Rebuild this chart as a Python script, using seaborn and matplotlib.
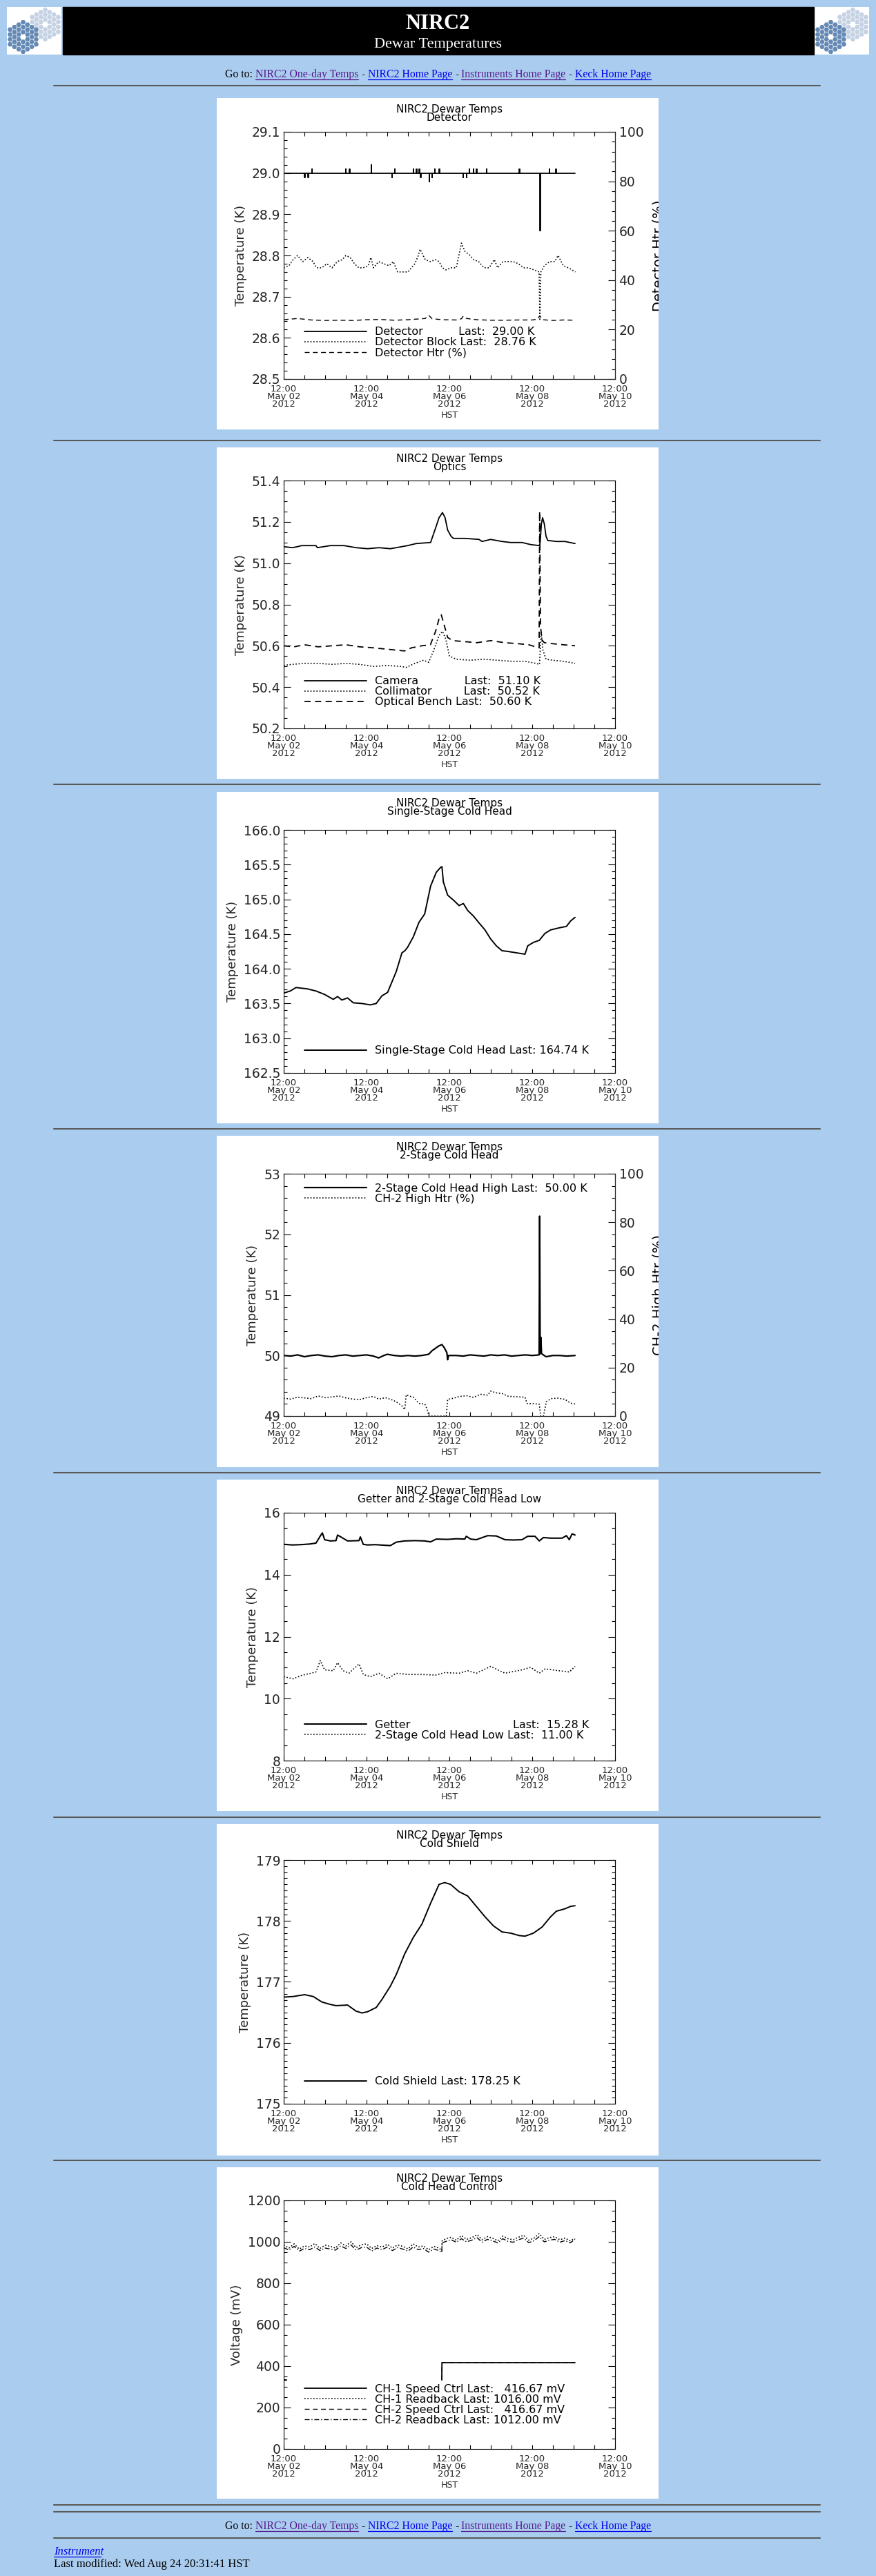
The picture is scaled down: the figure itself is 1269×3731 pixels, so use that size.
"""
NIRC2 dewar temperatures page: seven IDL-style strip charts stacked on one tall page.
"""

import numpy as np
import pandas as pd
import matplotlib
matplotlib.use("Agg")
import matplotlib.pyplot as plt
import matplotlib.dates as mdates
from matplotlib.lines import Line2D
from matplotlib.patches import Rectangle, RegularPolygon
from matplotlib.ticker import AutoMinorLocator, FormatStrFormatter, MultipleLocator
import seaborn as sns

# ---------------------------------------------------------------- data
# all times are hours after 2012-05-02 12:00 HST
START = pd.Timestamp("2012-05-02 12:00")
tick_times = ["2012-05-02 12:00", "2012-05-04 12:00", "2012-05-06 12:00",
              "2012-05-08 12:00", "2012-05-10 12:00"]
tick_labels = ["12:00\nMay 02\n2012", "12:00\nMay 04\n2012", "12:00\nMay 06\n2012",
               "12:00\nMay 08\n2012", "12:00\nMay 10\n2012"]

# Detector panel
det_hours = [0, 12.1, 12.3, 14.1, 14.3, 16.2, 16.4, 35.8, 36.0, 38.1, 38.3, 50.6, 50.8,
             62.7, 62.9, 64.3, 64.5, 75.1, 75.3, 76.8, 77.0, 78.4, 78.6, 79.3, 79.5,
             84.2, 84.4, 85.9, 86.1, 87.5, 87.7, 90.0, 90.2, 103.8, 104.0, 105.8, 106.0,
             107.4, 107.6, 109.9, 110.1, 111.6, 111.8, 117.4, 117.6, 136.5, 136.7,
             148.4, 148.6, 153.9, 154.1, 157.7, 157.9, 168.8]
det_temp = [29.00, 28.99, 29.00, 28.99, 29.00, 29.01, 29.00, 29.01, 29.00, 29.01, 29.00,
            29.02, 29.00, 28.99, 29.00, 29.01, 29.00, 29.01, 29.00, 29.01, 29.00, 29.01,
            29.00, 28.99, 29.00, 28.98, 29.00, 28.99, 29.00, 29.01, 29.00, 29.01, 29.00,
            28.99, 29.00, 28.99, 29.00, 29.01, 29.00, 29.01, 29.00, 29.01, 29.00, 29.01,
            29.00, 29.01, 29.00, 28.86, 29.00, 29.01, 29.00, 29.01, 29.00, 29.00]
blk_hours = [0, 3, 5.5, 8, 11, 14, 17, 19, 22, 25,
             28, 31, 34, 36, 38.5, 41, 43.5, 46, 49, 50.5,
             52, 55, 58, 61, 63.5, 66, 69, 72, 74, 76,
             78, 79, 82, 85, 88, 90, 92, 94, 97, 100,
             103, 105, 108, 110, 113, 116, 119, 122, 124, 127,
             130, 133, 136, 139, 142, 145, 148, 148.4, 149, 151,
             154, 157, 159, 162, 165, 169]
blk_temp = [28.770, 28.775, 28.790, 28.800, 28.785, 28.795, 28.785, 28.770, 28.770, 28.780,
            28.770, 28.785, 28.790, 28.800, 28.795, 28.780, 28.770, 28.770, 28.775, 28.795,
            28.770, 28.785, 28.780, 28.775, 28.785, 28.760, 28.760, 28.760, 28.770, 28.780,
            28.800, 28.815, 28.790, 28.785, 28.790, 28.785, 28.770, 28.765, 28.770, 28.770,
            28.830, 28.810, 28.800, 28.790, 28.785, 28.770, 28.770, 28.790, 28.770, 28.785,
            28.785, 28.785, 28.780, 28.770, 28.770, 28.765, 28.760, 28.645, 28.760, 28.775,
            28.785, 28.785, 28.800, 28.775, 28.770, 28.760]
htr_hours = [0, 8, 16, 24, 32, 40, 48, 56, 64, 72,
             78, 82, 84, 86, 92, 100, 103, 104, 106, 112,
             120, 128, 136, 144, 147, 148.4, 150, 156, 162, 169]
htr_pct = [24.0, 24.5, 23.9, 23.7, 23.8, 23.7, 24.0, 24.1, 23.8, 24.0,
           24.3, 24.5, 25.8, 24.4, 24.0, 23.9, 24.4, 25.5, 24.5, 24.0,
           23.8, 23.8, 23.9, 23.9, 24.2, 25.6, 24.0, 23.7, 23.9, 23.8]

# Optics panel
cam_hours = [0, 5, 8, 10.4, 18.7, 19.5, 27, 35, 41.9, 48.6,
             55.2, 61.8, 71.8, 76.8, 85.1, 88, 90, 92, 93.5, 95,
             97, 98.3, 105, 113.2, 114.9, 119.9, 126.5, 131.5, 138.1, 143.1,
             148.1, 148.6, 149.3, 150.0, 151.0, 152.0, 153.0, 158, 163.0, 168.8]
cam_temp = [51.080, 51.075, 51.080, 51.085, 51.085, 51.075, 51.085, 51.085, 51.075, 51.070,
            51.075, 51.070, 51.085, 51.095, 51.100, 51.170, 51.220, 51.245, 51.220, 51.160,
            51.130, 51.120, 51.120, 51.115, 51.105, 51.115, 51.105, 51.100, 51.100, 51.090,
            51.085, 51.100, 51.190, 51.220, 51.190, 51.130, 51.110, 51.105, 51.105, 51.095]
col_hours = [0, 5, 12, 20, 28, 36, 44, 52, 60, 68,
             71, 76, 81, 84, 87, 90, 92, 94, 96, 100,
             108, 116, 124, 132, 140, 146, 148.2, 149.2, 150.2, 152,
             156, 162, 168.8]
col_temp = [50.505, 50.510, 50.515, 50.515, 50.510, 50.515, 50.510, 50.500, 50.505, 50.500,
            50.495, 50.515, 50.530, 50.520, 50.580, 50.650, 50.670, 50.630, 50.550, 50.535,
            50.530, 50.535, 50.530, 50.525, 50.525, 50.515, 50.510, 50.670, 50.580, 50.535,
            50.530, 50.525, 50.515]
ob_hours = [0, 6, 12, 20, 28, 36, 44, 52, 58, 64,
            70, 74, 80, 85, 88, 90, 91.3, 93, 95, 98,
            105, 112, 120, 128, 136, 142, 146, 148.0, 148.3, 148.8,
            149.5, 151, 156, 162, 168.8]
ob_temp = [50.600, 50.595, 50.605, 50.595, 50.600, 50.605, 50.595, 50.590, 50.585, 50.580,
           50.575, 50.590, 50.600, 50.605, 50.670, 50.730, 50.750, 50.700, 50.640, 50.625,
           50.620, 50.615, 50.625, 50.615, 50.610, 50.605, 50.595, 50.590, 51.250, 50.700,
           50.630, 50.615, 50.610, 50.605, 50.600]

# Single-stage cold head
sch_hours = [0, 3.8, 7.1, 13.8, 18.7, 23.7, 28.7, 31.2, 33.7, 37.0,
             40.3, 45.3, 50.2, 53.6, 56.9, 60.2, 65.2, 68.5, 70.2, 71.8,
             75.1, 78.4, 81.7, 85.1, 88.4, 90.9, 91.7, 92.5, 95.0, 98.3,
             101.6, 104.1, 106.6, 109.9, 113.2, 116.6, 119.9, 123.2, 126.5, 129.8,
             134.8, 139.8, 141.4, 144.7, 148.1, 151.4, 154.7, 159.7, 163.8, 166.3,
             168.8]
sch_temp = [163.65, 163.68, 163.73, 163.71, 163.68, 163.63, 163.56, 163.60, 163.55, 163.58,
            163.51, 163.50, 163.48, 163.50, 163.61, 163.66, 163.96, 164.23, 164.26, 164.31,
            164.46, 164.67, 164.79, 165.19, 165.39, 165.46, 165.47, 165.25, 165.06, 164.99,
            164.91, 164.94, 164.84, 164.76, 164.66, 164.56, 164.43, 164.33, 164.26, 164.25,
            164.23, 164.21, 164.33, 164.38, 164.41, 164.51, 164.56, 164.59, 164.61, 164.69,
            164.74]

# 2-stage cold head high
ch2_hi_hours = [0, 4, 8, 12, 16, 20, 24, 28, 32, 36,
                40, 44, 48, 52, 55, 58, 60, 64, 68, 72,
                76, 80, 84, 86, 88, 90, 91.7, 93, 94.5, 95.0,
                95.5, 100, 104, 108, 112, 116, 120, 124, 128, 132,
                136, 140, 144, 148, 148.3, 148.6, 149.0, 149.4, 152, 156,
                160, 164, 168.8]
ch2_hi_temp = [50.00, 49.99, 50.01, 49.98, 50.00, 50.01, 49.99, 49.98, 50.00, 50.01,
               49.99, 50.00, 50.01, 49.99, 49.96, 50.00, 50.02, 50.00, 49.99, 50.00,
               49.99, 50.00, 50.02, 50.08, 50.12, 50.16, 50.18, 50.13, 50.05, 49.93,
               50.00, 50.00, 49.99, 50.01, 50.00, 49.99, 50.01, 50.00, 50.01, 49.99,
               50.00, 50.01, 50.00, 50.01, 52.30, 50.03, 50.30, 50.03, 49.98, 50.00,
               50.00, 49.99, 50.00]
ch2_htr_hours = [0, 4, 8, 12, 16, 20, 24, 28, 32, 36,
                 40, 44, 48, 52, 55, 59, 63.5, 66, 68.5, 70.1,
                 71.0, 73, 75.1, 78.4, 81.7, 83.0, 84.2, 90, 94.2, 95.0,
                 98, 102, 106, 110, 114, 118.2, 119.9, 123, 126.5, 130,
                 134, 139.8, 141, 145, 148.1, 148.9, 150.5, 152.2, 155, 159,
                 163, 166.3, 168.8]
ch2_htr = [7.4, 7.0, 7.8, 7.5, 7.2, 8.3, 7.6, 7.9, 8.3, 7.5,
           7.0, 6.8, 7.6, 8.1, 7.0, 7.6, 6.5, 5.5, 4.2, 2.7,
           8.8, 8.2, 7.8, 5.2, 5.0, 3.0, 0.0, 0.0, 0.0, 6.9,
           7.3, 8.1, 8.4, 7.7, 9.0, 8.6, 10.3, 9.6, 9.3, 8.2,
           8.0, 7.8, 5.2, 5.1, 4.9, 0.0, 0.0, 6.0, 7.2, 7.4,
           6.9, 5.3, 5.0]

# Getter and 2-stage cold head low
get_hours = [0, 5, 10, 15, 18.7, 21.2, 22.4, 23.7, 27.0, 30.3,
             31.2, 33.7, 37.0, 43.6, 44.4, 46.1, 48.6, 53, 58.5, 61.8,
             65.2, 70, 76, 81.7, 85.1, 88.4, 95, 100, 104.9, 105.8,
             108.3, 111.6, 118.2, 123.2, 128.2, 133, 138.1, 141.4, 145.6, 148.1,
             150.5, 154.7, 161.3, 163.8, 165.5, 167.1, 168.8]
get_temp = [14.98, 14.96, 14.97, 14.99, 15.02, 15.25, 15.35, 15.13, 15.09, 15.10,
            15.28, 15.20, 15.09, 15.10, 15.22, 14.98, 14.96, 14.97, 14.95, 14.94,
            15.05, 15.09, 15.10, 15.09, 15.06, 15.15, 15.14, 15.16, 15.15, 15.24,
            15.15, 15.13, 15.26, 15.25, 15.13, 15.12, 15.13, 15.24, 15.24, 15.09,
            15.20, 15.18, 15.18, 15.26, 15.13, 15.32, 15.28]
chl_hours = [0, 5.5, 10.4, 18.7, 21.2, 23.7, 28.7, 31.2, 34.5, 37.8,
             43.6, 46.1, 50.2, 55.2, 60.2, 65.2, 72, 80, 88, 93.3,
             101.6, 106.6, 111.6, 119.9, 128.2, 138.1, 143.1, 148.1, 151.4, 159.7,
             165.5, 168.8]
chl_temp = [10.71, 10.64, 10.75, 10.86, 11.23, 10.93, 10.90, 11.16, 10.90, 10.82,
            11.12, 10.78, 10.71, 10.82, 10.64, 10.82, 10.78, 10.78, 10.76, 10.84,
            10.82, 10.90, 10.82, 11.04, 10.82, 10.93, 11.01, 10.82, 10.96, 10.90,
            10.86, 11.04]

# Cold shield
cs_hours = [0, 5.5, 12.1, 17.1, 22.1, 27.0, 30.3, 37.0, 41.9, 45.3,
            48.6, 53.6, 56.9, 61.8, 65.2, 70.1, 75.1, 80.1, 85.1, 90.0,
            93.3, 96.7, 101.6, 106.6, 111.6, 116.6, 121.5, 126.5, 131.5, 136.5,
            139.8, 144.7, 149.7, 154.7, 158.0, 163.0, 166.3, 168.8]
cs_temp = [176.75, 176.76, 176.79, 176.76, 176.67, 176.63, 176.61, 176.62, 176.52, 176.49,
           176.51, 176.58, 176.71, 176.93, 177.12, 177.46, 177.73, 177.95, 178.29, 178.60,
           178.63, 178.60, 178.48, 178.41, 178.24, 178.07, 177.92, 177.82, 177.80, 177.76,
           177.75, 177.80, 177.90, 178.07, 178.16, 178.20, 178.24, 178.25]

# Cold head control
ctrl_hours = [0.0, 1.5, 91.6, 91.7, 168.8]
ctrl_mv = [333.0, 333.0, 333.0, 416.67, 416.67]
ctrl_seg = [0, 0, 1, 1, 1]
rb_hours = [0, 3, 6, 9, 12, 15, 18, 21, 24, 27, 30, 33, 36, 39, 42, 45, 48, 51, 54, 57,
            60, 63, 66, 69, 72, 75, 78, 81, 84, 87, 90, 91.6, 91.8, 94, 97, 100, 103, 106,
            109, 112, 115, 118, 121, 124, 127, 130, 133, 136, 139, 142, 145, 148, 151, 154,
            157, 160, 163, 166, 168.8]
rb1_mv = [985, 970, 990, 965, 980, 975, 992, 968, 984, 978,
          970, 995, 980, 1000, 972, 986, 990, 968, 982, 975,
          988, 970, 985, 978, 966, 990, 975, 980, 962, 978,
          970, 958, 1005, 1015, 1022, 1008, 1030, 1012, 1020, 1035,
          1010, 1025, 1018, 1005, 1028, 1015, 1010, 1022, 1032, 1008,
          1018, 1040, 1012, 1020, 1025, 1010, 1018, 1005, 1016]
rb2_mv = [972, 960, 978, 955, 968, 962, 975, 958, 970, 965,
          960, 980, 968, 985, 960, 972, 975, 955, 970, 962,
          975, 958, 972, 965, 955, 975, 962, 968, 950, 965,
          958, 948, 995, 1002, 1010, 998, 1015, 1000, 1008, 1020,
          998, 1012, 1005, 995, 1015, 1002, 998, 1010, 1018, 996,
          1005, 1025, 1000, 1008, 1012, 998, 1006, 995, 1012]

GOTO_PIECES = [("Go to:", "black", False), ("NIRC2 One-day Temps", "#551a8b", True),
               ("-", "black", False), ("NIRC2 Home Page", "#0000ee", True),
               ("-", "black", False), ("Instruments Home Page", "#551a8b", True),
               ("-", "black", False), ("Keck Home Page", "#0000ee", True)]

# ---------------------------------------------------------------- layout
W, H = 1269, 3731
PAGE_BG = "#aacdef"
SERIF = "Liberation Serif"
BOX_X, BOX_W, BOX_H = 314, 640, 480
AX_X, AX_W = 411, 480
PANEL_TOPS = [142, 648, 1147, 1645, 2143, 2642, 3139]
AX_TOPS = [191, 696, 1202, 1700, 2191, 2694, 3187]
AX_BOTTOMS = [549, 1055, 1554, 2051, 2550, 3047, 3547]
DOT = (0, (1, 1.6))
DASH = (0, (5, 3.5))
DASHDOT = (0, (5, 2, 1, 2))

sns.set_style("ticks")
plt.rcParams["font.family"] = ["DejaVu Sans"]
plt.rcParams["axes.linewidth"] = 0.8
plt.rcParams["text.color"] = "black"

fig = plt.figure(figsize=(W / 100, H / 100), dpi=100, facecolor=PAGE_BG)


def frac(x, y, w, h):
    return [x / W, 1 - (y + h) / H, w / W, h / H]


def hline(y, x0=78, x1=1188, color="#5a5a5a", lw=1.5):
    fig.add_artist(Line2D([x0 / W, x1 / W], [1 - y / H] * 2, transform=fig.transFigure,
                          color=color, lw=lw))


def to_time(hours):
    return START + pd.to_timedelta(np.asarray(hours, dtype=float), unit="h")


def trace(ax, hours, values, ls="-", lw=1.3, **kw):
    frame = pd.DataFrame({"time": to_time(hours), "value": values})
    sns.lineplot(data=frame, x="time", y="value", ax=ax, color="black", linestyle=ls,
                 linewidth=lw, estimator=None, sort=False, legend=False, **kw)
    return ax.lines[-1]


def draw_logo(x0):
    lax = fig.add_axes(frac(x0, 10, 79, 69))
    lax.set_xlim(0, 79)
    lax.set_ylim(69, 0)
    lax.axis("off")
    lax.add_patch(Rectangle((0, 0), 79, 69, color="white"))
    for (cx, cy), color in [((55.5, 25.5), "#c4d2e3"), ((23.5, 43.5), "#6489b4")]:
        for col in range(-3, 4):
            count = 7 - abs(col)
            for row in range(count):
                if col == 0 and row == 3:
                    continue
                lax.add_patch(RegularPolygon((cx + col * 6.3, cy + (row - (count - 1) / 2) * 7.1),
                                             6, radius=3.7, orientation=np.pi / 6,
                                             color=color, lw=0))


def link_row(y_base, width=617, center=634.5):
    renderer = fig.canvas.get_renderer()
    texts = [fig.text(0, 1 - y_base / H, s, color=c, fontsize=12, family=SERIF,
                      va="baseline") for s, c, _ in GOTO_PIECES]
    space = 12 * 100 / 72 * 0.25
    total = sum(t.get_window_extent(renderer).width for t in texts) + space * (len(texts) - 1)
    size = 12 * width / total
    for t in texts:
        t.set_fontsize(size)
    space = size * 100 / 72 * 0.25
    widths = [t.get_window_extent(renderer).width for t in texts]
    x = center - (sum(widths) + space * (len(texts) - 1)) / 2
    for t, w, (_, c, is_link) in zip(texts, widths, GOTO_PIECES):
        t.set_x(x / W)
        if is_link:
            hline(y_base + 2.5, x, x + w, color=c, lw=0.9)
        x += w + space


def make_panel(i):
    bg = fig.add_axes(frac(BOX_X, PANEL_TOPS[i], BOX_W, BOX_H))
    bg.set_facecolor("white")
    bg.set_xticks([])
    bg.set_yticks([])
    for s in bg.spines.values():
        s.set_visible(False)
    ax = fig.add_axes(frac(AX_X, AX_TOPS[i], AX_W, AX_BOTTOMS[i] - AX_TOPS[i]))
    ax.set_facecolor("white")
    return bg, ax


def style_panel(i, bg, ax, subtitle, ylabel, ylim, major, n_minor, fmt, twin=None):
    bg.text((651 - BOX_X) / BOX_W, 1 - 9 / BOX_H, "NIRC2 Dewar Temps\n" + subtitle,
            transform=bg.transAxes, ha="center", va="top", fontsize=11, linespacing=0.78)
    ax.set_xlim(pd.Timestamp(tick_times[0]), pd.Timestamp(tick_times[-1]))
    ax.set_xticks(pd.to_datetime(tick_times), tick_labels, fontsize=9.5, linespacing=0.8)
    ax.xaxis.set_minor_locator(mdates.HourLocator(byhour=[0, 12]))
    ax.set_ylim(*ylim)
    ax.yaxis.set_major_locator(MultipleLocator(major))
    ax.yaxis.set_minor_locator(AutoMinorLocator(n_minor))
    ax.yaxis.set_major_formatter(FormatStrFormatter(fmt))
    ax.tick_params(which="both", direction="in", top=True, right=twin is None,
                   color="black", width=0.8)
    ax.tick_params(axis="y", which="major", length=7, labelsize=13.5, pad=3.5)
    ax.tick_params(axis="y", which="minor", length=3.5)
    ax.tick_params(axis="x", which="both", length=4.5, pad=6)
    ax.set_xlabel("HST", fontsize=9, labelpad=2)
    ax.set_ylabel(ylabel, fontsize=13, labelpad=5)
    for s in ax.spines.values():
        s.set_color("black")


def style_twin(i, bg, ax2, label, n_minor):
    ax2.set_ylim(0, 100)
    ax2.yaxis.set_major_locator(MultipleLocator(20))
    ax2.yaxis.set_minor_locator(AutoMinorLocator(n_minor))
    ax2.tick_params(which="both", direction="in", color="black", width=0.8)
    ax2.tick_params(axis="y", which="major", length=7, labelsize=13.5, pad=4)
    ax2.tick_params(axis="y", which="minor", length=3.5)
    ax2.set_ylabel("")
    mid = (AX_TOPS[i] + AX_BOTTOMS[i]) / 2 - PANEL_TOPS[i]
    # the heater label sits on the right edge of the white box and is cut off by it
    bg.text((945 - BOX_X) / BOX_W, 1 - mid / BOX_H, label, transform=bg.transAxes,
            rotation=90, ha="left", va="center", fontsize=14, clip_on=True)


def add_legend(ax, handles, labels, anchor):
    ax.legend(handles, labels, loc="upper left", bbox_to_anchor=anchor, frameon=False,
              fontsize=11.5, handlelength=5.6, handletextpad=0.8, labelspacing=0.0,
              borderpad=0, borderaxespad=0)


# ---------------------------------------------------------------- header
fig.add_artist(Rectangle((91 / W, 1 - 79 / H), 1088 / W, 69 / H, transform=fig.transFigure,
                         color="black"))
draw_logo(10)
draw_logo(1180)
fig.text(634 / W, 1 - 42 / H, "NIRC2", color="white", fontsize=22, weight="bold",
         family=SERIF, ha="center", va="baseline")
fig.text(634 / W, 1 - 69 / H, "Dewar Temperatures", color="white", fontsize=16,
         family=SERIF, ha="center", va="baseline")
link_row(112)
for y in [124, 638, 1136, 1635, 2133, 2632, 3129, 3628, 3638, 3676]:
    hline(y)

# ---------------------------------------------------------------- 1: detector
bg, ax = make_panel(0)
ax2 = ax.twinx()
h1 = trace(ax, det_hours, det_temp, lw=1.3, drawstyle="steps-post")
h2 = trace(ax, blk_hours, blk_temp, ls=DOT, lw=1.2)
h3 = trace(ax2, htr_hours, htr_pct, ls=DASH, lw=1.0)
style_panel(0, bg, ax, "Detector", "Temperature (K)", (28.5, 29.1), 0.1, 5, "%.1f", twin=ax2)
style_twin(0, bg, ax2, "Detector Htr (%)", 5)
add_legend(ax, [h1, h2, h3],
           ["Detector" + " " * 10 + "Last:  29.00 K", "Detector Block Last:  28.76 K",
            "Detector Htr (%)"], (0.063, 0.212))

# ---------------------------------------------------------------- 2: optics
bg, ax = make_panel(1)
h1 = trace(ax, cam_hours, cam_temp, lw=1.3)
h2 = trace(ax, col_hours, col_temp, ls=DOT, lw=1.2)
h3 = trace(ax, ob_hours, ob_temp, ls=DASH, lw=1.3)
style_panel(1, bg, ax, "Optics", "Temperature (K)", (50.2, 51.4), 0.2, 4, "%.1f")
add_legend(ax, [h1, h2, h3],
           ["Camera" + " " * 13 + "Last:  51.10 K", "Collimator" + " " * 9 + "Last:  50.52 K",
            "Optical Bench Last:  50.60 K"], (0.063, 0.211))

# ---------------------------------------------------------------- 3: single-stage cold head
bg, ax = make_panel(2)
h1 = trace(ax, sch_hours, sch_temp, lw=1.4)
style_panel(2, bg, ax, "Single-Stage Cold Head", "Temperature (K)", (162.5, 166.0), 0.5, 5,
            "%.1f")
add_legend(ax, [h1], ["Single-Stage Cold Head Last: 164.74 K"], (0.063, 0.1125))

# ---------------------------------------------------------------- 4: 2-stage cold head
bg, ax = make_panel(3)
ax2 = ax.twinx()
h1 = trace(ax, ch2_hi_hours, ch2_hi_temp, lw=1.6)
h2 = trace(ax2, ch2_htr_hours, ch2_htr, ls=DOT, lw=1.2)
style_panel(3, bg, ax, "2-Stage Cold Head", "Temperature (K)", (49, 53), 1, 5, "%d", twin=ax2)
style_twin(3, bg, ax2, "CH-2 High Htr (%)", 4)
add_legend(ax, [h1, h2], ["2-Stage Cold Head High Last:  50.00 K", "CH-2 High Htr (%)"],
           (0.063, 0.96))

# ---------------------------------------------------------------- 5: getter
bg, ax = make_panel(4)
h1 = trace(ax, get_hours, get_temp, lw=1.5)
h2 = trace(ax, chl_hours, chl_temp, ls=DOT, lw=1.2)
style_panel(4, bg, ax, "Getter and 2-Stage Cold Head Low", "Temperature (K)", (8, 16), 2, 4,
            "%d")
add_legend(ax, [h1, h2],
           ["Getter" + " " * 29 + "Last:  15.28 K", "2-Stage Cold Head Low Last:  11.00 K"],
           (0.063, 0.165))

# ---------------------------------------------------------------- 6: cold shield
bg, ax = make_panel(5)
h1 = trace(ax, cs_hours, cs_temp, lw=1.4)
style_panel(5, bg, ax, "Cold Shield", "Temperature (K)", (175, 179), 1, 10, "%d")
add_legend(ax, [h1], ["Cold Shield Last: 178.25 K"], (0.063, 0.113))

# ---------------------------------------------------------------- 7: cold head control
bg, ax = make_panel(6)
ctrl = pd.DataFrame({"time": to_time(ctrl_hours), "mv": ctrl_mv, "seg": ctrl_seg})
sns.lineplot(data=ctrl, x="time", y="mv", units="seg", estimator=None, sort=False, ax=ax,
             color="black", linewidth=1.3, legend=False)
h1 = ax.lines[-1]
h2 = trace(ax, rb_hours, rb1_mv, ls=DOT, lw=1.2)
sns.lineplot(data=ctrl, x="time", y="mv", units="seg", estimator=None, sort=False, ax=ax,
             color="black", linewidth=1.0, linestyle=DASH, legend=False)
h3 = ax.lines[-1]
h4 = trace(ax, rb_hours, rb2_mv, ls=DASHDOT, lw=1.0)
style_panel(6, bg, ax, "Cold Head Control", "Voltage (mV)", (0, 1200), 200, 4, "%d")
add_legend(ax, [h1, h2, h3, h4],
           ["CH-1 Speed Ctrl Last:   416.67 mV", "CH-1 Readback Last: 1016.00 mV",
            "CH-2 Speed Ctrl Last:   416.67 mV", "CH-2 Readback Last: 1012.00 mV"],
           (0.063, 0.262))

# ---------------------------------------------------------------- footer
link_row(3663)
fig.text(78 / W, 1 - 3700 / H, "Instrument", color="#0000ee", fontsize=12, style="italic",
         family=SERIF, va="baseline")
hline(3703, 78, 146, color="#0000ee", lw=0.9)
fig.text(78 / W, 1 - 3718 / H, "Last modified: Wed Aug 24 20:31:41 HST", fontsize=12,
         family=SERIF, va="baseline")

fig.savefig("out.png", dpi=100, facecolor=PAGE_BG)
